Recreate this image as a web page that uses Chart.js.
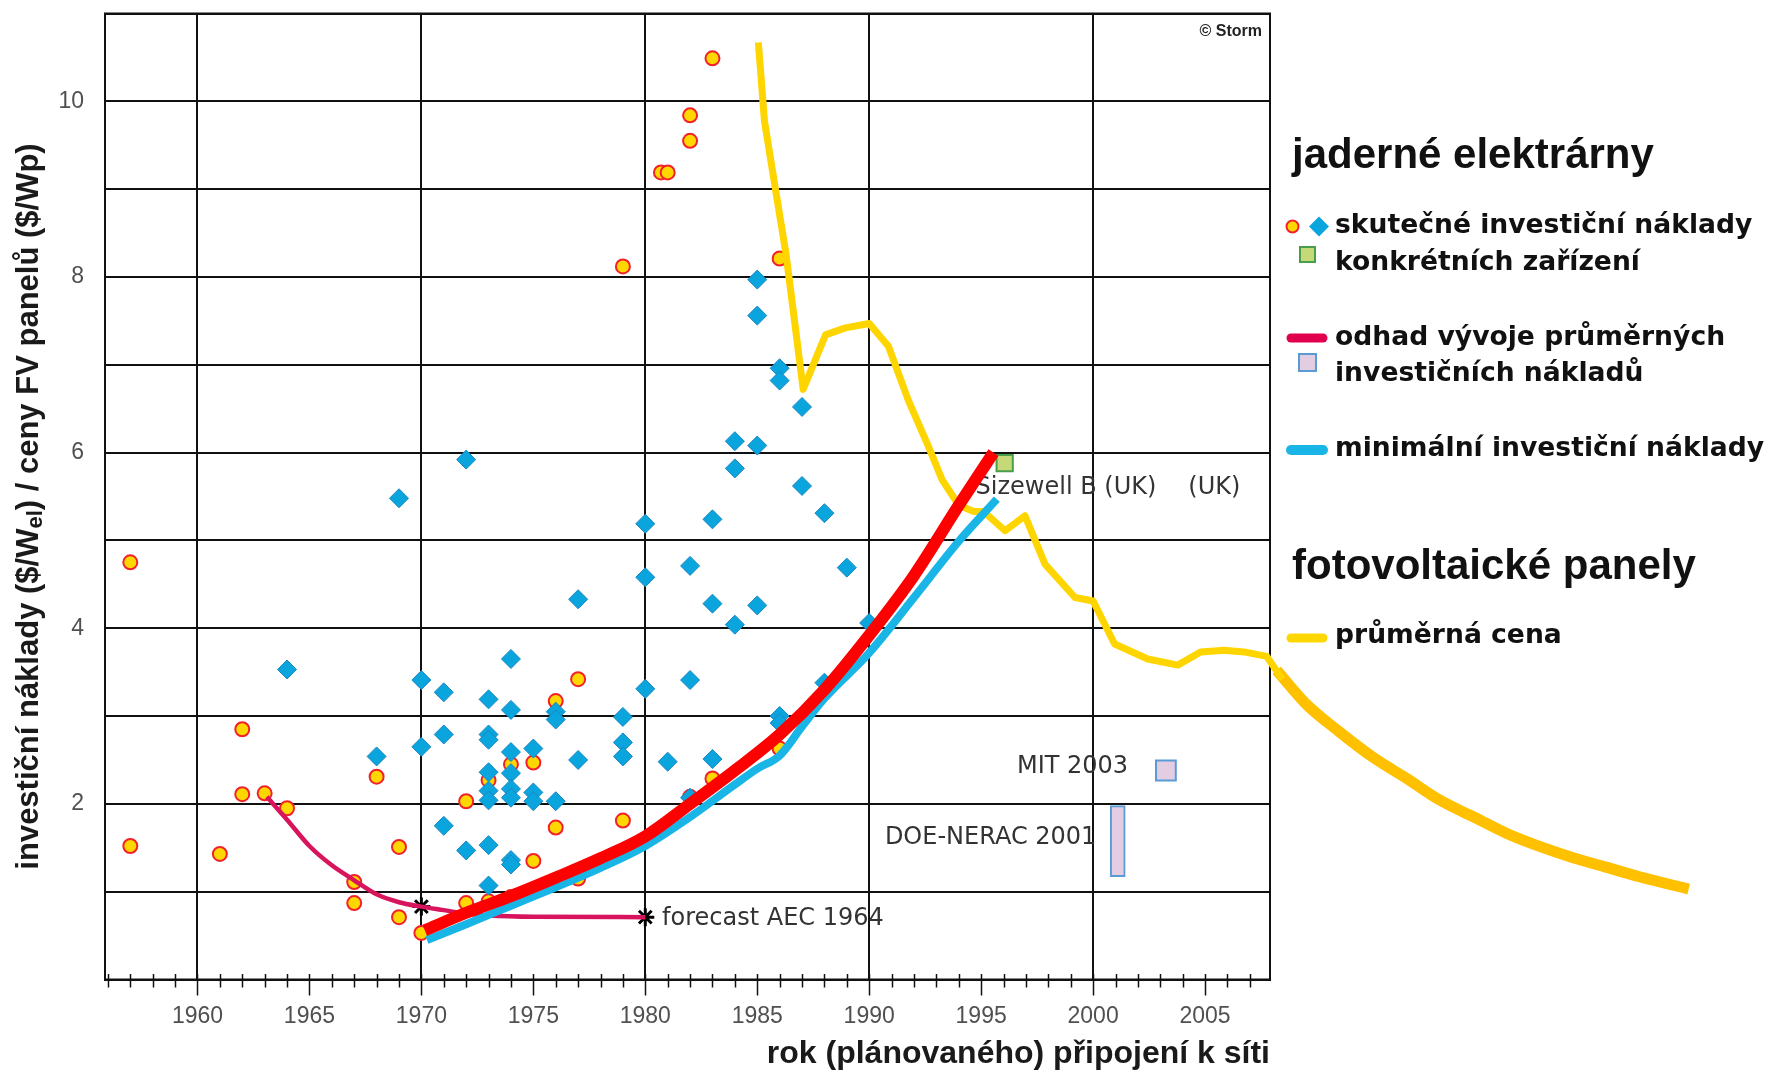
<!DOCTYPE html>
<html lang="cs">
<head>
<meta charset="utf-8">
<title>Investiční náklady jaderných elektráren a ceny FV panelů</title>
<script src="https://cdn.jsdelivr.net/npm/chart.js@4.4.1/dist/chart.umd.min.js"></script>
<style>
  html, body { margin: 0; padding: 0; background: #fff; }
</style>
</head>
<body>
<canvas id="graf" width="1765" height="1073"></canvas>
<script>
// skutečné investiční náklady konkrétních zařízení – kroužky [rok, $/W]
const kolecka = [
    [1957, 4.75], [1957, 1.52], [1961, 1.43], [1962, 2.85], [1962, 2.11], [1963, 2.12],
    [1964, 1.95], [1967, 1.11], [1967, 0.87], [1968, 2.31], [1969, 1.51], [1969, 0.71],
    [1970, 0.53], [1972, 2.03], [1972, 0.87], [1973, 0.89], [1973, 2.27], [1974, 2.45],
    [1974, 0.94], [1975, 2.47], [1975, 1.35], [1976, 3.17], [1976, 1.73], [1977, 3.42],
    [1977, 1.15], [1979, 1.81], [1979, 8.12], [1980.7, 9.19], [1981, 9.19], [1982, 9.84],
    [1982, 9.55], [1982, 2.08], [1983, 10.49], [1983, 2.29], [1986, 8.21], [1986, 2.63]
];

// skutečné investiční náklady – kosočtverce [rok, $/W]
const kosoctverce = [
    [1964, 3.53], [1968, 2.54], [1969, 5.48], [1970, 3.41], [1970, 2.65], [1971, 3.27],
    [1971, 2.79], [1971, 1.75], [1972, 5.92], [1972, 1.47], [1973, 3.19], [1973, 2.79],
    [1973, 2.73], [1973, 2.36], [1973, 2.15], [1973, 2.04], [1973, 1.53], [1973, 1.07],
    [1974, 3.65], [1974, 3.07], [1974, 2.59], [1974, 2.35], [1974, 2.17], [1974, 2.07],
    [1974, 1.36], [1974, 1.31], [1975, 2.63], [1975, 2.13], [1975, 2.03], [1976, 3.05],
    [1976, 2.96], [1976, 2.03], [1977, 4.33], [1977, 2.5], [1979, 2.99], [1979, 2.7],
    [1979, 2.54], [1980, 5.19], [1980, 4.58], [1980, 3.31], [1981, 2.48], [1982, 4.71],
    [1982, 3.41], [1982, 2.07], [1983, 5.24], [1983, 4.28], [1983, 2.51], [1984, 6.13],
    [1984, 5.82], [1984, 4.04], [1985, 7.97], [1985, 7.56], [1985, 6.08], [1985, 4.26],
    [1986, 6.96], [1986, 6.82], [1986, 3.0], [1986, 2.92], [1987, 6.52], [1987, 5.62],
    [1988, 5.31], [1988, 3.38], [1989, 4.69], [1990, 4.06]
];

// forecast AEC 1964 (růžová křivka) a její dva body
const odhadAEC1964 = [
    [1963.1, 2.08], [1964, 1.82], [1965, 1.52], [1966, 1.3], [1967, 1.13], [1968, 0.97],
    [1969, 0.88], [1970, 0.83], [1971, 0.79], [1972, 0.75], [1973, 0.73], [1975, 0.715], [1980, 0.71]
];
const hvezdyAEC = [[1970, 0.83], [1980, 0.71]];

// odhad vývoje průměrných investičních nákladů (červená)
const odhadPrumeru = [
    [1970.15, 0.56], [1972, 0.76], [1974, 0.95], [1976, 1.16], [1978, 1.38], [1980, 1.63],
    [1982, 2.0], [1984, 2.38], [1986, 2.79], [1988, 3.3], [1990, 3.92], [1992, 4.6],
    [1994, 5.4], [1995.55, 6.0]
];

// minimální investiční náklady (modrá)
const minimalni = [
    [1970.25, 0.45], [1972, 0.63], [1974, 0.84], [1976, 1.05], [1978, 1.27], [1980, 1.52],
    [1982, 1.85], [1984, 2.22], [1985, 2.4], [1986, 2.55], [1987, 2.88], [1988, 3.2],
    [1990, 3.72], [1992, 4.35], [1994, 4.99], [1995.7, 5.47]
];

// fotovoltaické panely – průměrná cena ($/Wp)
const fvCena = [
    [1985.05, 10.67], [1985.32, 9.78], [1985.8, 9.02], [1986.28, 8.27], [1986.66, 7.51],
    [1987.05, 6.72], [1988.05, 7.34], [1988.94, 7.42], [1990, 7.47], [1990.86, 7.21],
    [1991.74, 6.6], [1992.63, 6.08], [1993.26, 5.69], [1994, 5.4], [1994.67, 5.33],
    [1995.1, 5.33], [1996.07, 5.11], [1996.96, 5.28], [1997.85, 4.73], [1999.19, 4.35],
    [2000, 4.31], [2000.96, 3.82], [2002.44, 3.65], [2003.78, 3.58], [2004.8, 3.73],
    [2005.85, 3.75], [2006.74, 3.73], [2007.75, 3.68], [2008.45, 3.42]
];
const fvVyhled = [
    [2008.2, 3.52], [2009.5, 3.14], [2011, 2.82], [2012.5, 2.53], [2014, 2.29], [2015.5, 2.04],
    [2017, 1.85], [2018.5, 1.66], [2020, 1.51], [2021.4, 1.39], [2022.9, 1.28], [2024.4, 1.17],
    [2026.6, 1.03]
];

// jednotlivé odhady
const sizewellB = [[1996.05, 5.88]];
const mit2003 = [[2003.25, 2.38]];
const doeNerac2001 = [[2001.1, 1.17, 1.98]];

// osy
const popiskyRoku = [1960, 1965, 1970, 1975, 1980, 1985, 1990, 1995, 2000, 2005];
const popiskyHodnot = [2, 4, 6, 8, 10];
const OSA_X_OD = 1955.87;
const OSA_X_DO = 2007.9;

// texty v grafu
const popisky = [
    { text: 'Sizewell B (UK)', rok: 1994.75, hodnota: 5.6 },
    { text: '(UK)', rok: 2004.25, hodnota: 5.6 },
    { text: 'MIT 2003', rok: 1996.6, hodnota: 2.42 },
    { text: 'DOE-NERAC 2001', rok: 1990.7, hodnota: 1.61 },
    { text: 'forecast AEC 1964', rok: 1980.75, hodnota: 0.69 }
];

const xy = (pole) => pole.map(([x, y]) => ({ x, y }));

const rokyTicku = [];
for (let r = 1956; r <= 2007; r++) rokyTicku.push(r);

const PISMO = '"Liberation Sans", Arial, sans-serif';
const PISMO_LEG = '"DejaVu Sans", Verdana, sans-serif';

function kresliPopisekY(ctx, cx, cy) {
    ctx.save();
    ctx.translate(cx, cy);
    ctx.rotate(-Math.PI / 2);
    const velke = 'bold 31px ' + PISMO;
    const male = 'bold 22px ' + PISMO;
    const casti = [
        ['investiční náklady ($/W', velke, 0],
        ['el', male, 7],
        [') / ceny FV panelů ($/Wp)', velke, 0]
    ];
    let sirka = 0;
    casti.forEach(c => { ctx.font = c[1]; sirka += ctx.measureText(c[0]).width; });
    let x = -sirka / 2;
    ctx.textBaseline = 'middle';
    ctx.textAlign = 'left';
    ctx.fillStyle = '#1a1a1a';
    casti.forEach(c => {
        ctx.font = c[1];
        ctx.fillText(c[0], x, c[2]);
        x += ctx.measureText(c[0]).width;
    });
    ctx.restore();
}

function kresliLegendu(ctx) {
    ctx.save();
    ctx.textBaseline = 'middle';
    ctx.textAlign = 'left';
    ctx.fillStyle = '#111';
    ctx.font = 'bold 42px ' + PISMO;
    ctx.fillText('jaderné elektrárny', 1292, 156);
    ctx.fillText('fotovoltaické panely', 1292, 567);

    ctx.font = 'bold 26.6px ' + PISMO_LEG;
    ctx.fillText('skutečné investiční náklady', 1335, 226);
    ctx.fillText('konkrétních zařízení', 1335, 263);
    ctx.fillText('odhad vývoje průměrných', 1335, 338);
    ctx.fillText('investičních nákladů', 1335, 374);
    ctx.fillText('minimální investiční náklady', 1335, 449);
    ctx.fillText('průměrná cena', 1335, 636);

    // kroužek
    ctx.beginPath();
    ctx.arc(1292.5, 226.5, 6, 0, Math.PI * 2);
    ctx.fillStyle = '#ffd700';
    ctx.fill();
    ctx.lineWidth = 2;
    ctx.strokeStyle = '#f2202a';
    ctx.stroke();
    // kosočtverec
    ctx.beginPath();
    ctx.moveTo(1309, 226.5); ctx.lineTo(1319, 216.5); ctx.lineTo(1329, 226.5); ctx.lineTo(1319, 236.5);
    ctx.closePath();
    ctx.fillStyle = '#0aa5dd';
    ctx.fill();
    // čtverečky
    ctx.lineWidth = 2;
    ctx.fillStyle = '#c6d979'; ctx.strokeStyle = '#4a9e4a';
    ctx.fillRect(1300, 247, 15, 15); ctx.strokeRect(1300, 247, 15, 15);
    ctx.fillStyle = '#e2cde2'; ctx.strokeStyle = '#5b9bd5';
    ctx.fillRect(1299, 354, 17, 17); ctx.strokeRect(1299, 354, 17, 17);
    // čáry
    ctx.lineCap = 'round';
    [['#e0004e', 338, 9], ['#19b5e6', 450, 10], ['#ffd700', 638, 9]].forEach(([barva, yy, w]) => {
        ctx.beginPath();
        ctx.moveTo(1291, yy); ctx.lineTo(1323, yy);
        ctx.strokeStyle = barva; ctx.lineWidth = w;
        ctx.stroke();
    });
    ctx.restore();
}

const dekorace = {
    id: 'dekorace',
    beforeDatasetsDraw(chart) {
        const { ctx, chartArea: a, scales: { x, y } } = chart;
        ctx.save();
        ctx.strokeStyle = '#111';
        ctx.lineWidth = 2;
        ctx.strokeRect(a.left, a.top, a.right - a.left, a.bottom - a.top);
        ctx.font = '24px ' + PISMO_LEG;
        ctx.fillStyle = '#333';
        ctx.textBaseline = 'middle';
        ctx.textAlign = 'left';
        popisky.forEach(p => ctx.fillText(p.text, x.getPixelForValue(p.rok), y.getPixelForValue(p.hodnota)));
        ctx.restore();
    },
    afterDraw(chart) {
        const { ctx, chartArea: a, scales: { x } } = chart;
        ctx.save();
        // značky let na ose x
        ctx.strokeStyle = '#111';
        ctx.lineWidth = 1.5;
        x.ticks.forEach(t => {
            const px = Math.round(x.getPixelForValue(t.value)) + 0.5;
            const dolu = t.value % 5 === 0 ? 16 : 8;
            ctx.beginPath();
            ctx.moveTo(px, a.bottom - 5.5);
            ctx.lineTo(px, a.bottom + dolu);
            ctx.stroke();
        });
        // © Storm
        ctx.font = 'bold 16px ' + PISMO;
        ctx.fillStyle = '#222';
        ctx.textAlign = 'right';
        ctx.textBaseline = 'middle';
        ctx.fillText('© Storm', a.right - 8, a.top + 18);
        ctx.restore();

        kresliPopisekY(ctx, 29, (a.top + a.bottom) / 2 + 10);
        kresliLegendu(ctx);
    }
};

new Chart(document.getElementById('graf'), {
    type: 'scatter',
    data: {
        datasets: [
            {
                type: 'line',
                label: 'odhad vývoje průměrných investičních nákladů',
                data: xy(odhadPrumeru),
                borderColor: '#ff0000',
                borderWidth: 12,
                pointRadius: 0,
                cubicInterpolationMode: 'monotone'
            },
            {
                type: 'line',
                label: 'minimální investiční náklady',
                data: xy(minimalni),
                borderColor: '#19b5e6',
                borderWidth: 8,
                pointRadius: 0,
                cubicInterpolationMode: 'monotone'
            },
            {
                type: 'line',
                label: 'průměrná cena',
                data: xy(fvCena),
                borderColor: '#ffd500',
                borderWidth: 7,
                borderJoinStyle: 'round',
                pointRadius: 0,
                tension: 0,
                clip: false
            },
            {
                type: 'line',
                label: 'průměrná cena (pokračování)',
                data: xy(fvVyhled),
                borderColor: '#ffc000',
                borderWidth: 11,
                pointRadius: 0,
                cubicInterpolationMode: 'monotone',
                capBezierPoints: false,
                clip: false
            },
            {
                type: 'line',
                label: 'forecast AEC 1964',
                data: xy(odhadAEC1964),
                borderColor: '#d8145c',
                borderWidth: 4.5,
                pointRadius: 0,
                cubicInterpolationMode: 'monotone'
            },
            {
                label: 'forecast AEC 1964 body',
                data: xy(hvezdyAEC),
                pointStyle: 'star',
                pointRadius: 9,
                borderColor: '#000',
                borderWidth: 3
            },
            {
                label: 'Sizewell B (UK)',
                data: xy(sizewellB),
                pointStyle: 'rect',
                pointRadius: 11.5,
                backgroundColor: '#c6d979',
                borderColor: '#4a9e4a',
                borderWidth: 2
            },
            {
                label: 'skutečné investiční náklady',
                data: xy(kosoctverce),
                pointStyle: 'rectRot',
                pointRadius: 9.5,
                backgroundColor: '#0aa5dd',
                borderColor: '#1a86c4',
                borderWidth: 1
            },
            {
                label: 'skutečné investiční náklady (kroužky)',
                data: xy(kolecka),
                pointStyle: 'circle',
                pointRadius: 7,
                backgroundColor: '#ffd700',
                borderColor: '#f2202a',
                borderWidth: 2
            },
            {
                label: 'MIT 2003',
                data: xy(mit2003),
                pointStyle: 'rect',
                pointRadius: 14,
                backgroundColor: '#e2cde2',
                borderColor: '#5b9bd5',
                borderWidth: 2
            },
            {
                type: 'bar',
                label: 'DOE-NERAC 2001',
                data: doeNerac2001.map(([x, od, doo]) => ({ x, y: [od, doo] })),
                backgroundColor: '#e2cde2',
                borderColor: '#5b9bd5',
                borderWidth: 2,
                borderSkipped: false,
                barThickness: 15,
                grouped: false
            }
        ]
    },
    options: {
        responsive: false,
        animation: false,
        events: [],
        layout: {
            autoPadding: false,
            padding: { top: 13.5, right: 495, bottom: 0, left: 0 }
        },
        plugins: {
            legend: { display: false },
            tooltip: { enabled: false }
        },
        scales: {
            x: {
                type: 'linear',
                position: 'bottom',
                offset: false,
                bounds: 'data',
                // rozsah osy nastavený až po výpočtu, aby se žlutá čára mohla kreslit i za rámem
                afterDataLimits: (s) => { s.min = OSA_X_OD; s.max = OSA_X_DO; },
                afterBuildTicks: (s) => { s.ticks = rokyTicku.map(v => ({ value: v })); },
                afterFit: (s) => { s.height = 93.5; s.paddingLeft = 0; s.paddingRight = 0; },
                grid: {
                    offset: false,
                    drawTicks: false,
                    lineWidth: 2,
                    color: (c) => (c.tick && c.tick.value % 10 === 0) ? '#111' : 'rgba(0,0,0,0)'
                },
                border: { display: true, color: '#111', width: 2 },
                ticks: {
                    autoSkip: false,
                    maxRotation: 0,
                    padding: 23,
                    color: '#505050',
                    font: { family: PISMO, size: 23 },
                    callback: (v) => popiskyRoku.includes(v) ? String(v) : ''
                },
                title: {
                    display: true,
                    text: 'rok (plánovaného) připojení k síti',
                    align: 'end',
                    color: '#1a1a1a',
                    font: { family: PISMO, size: 32, weight: 'bold' },
                    padding: { top: 0, bottom: 0 }
                }
            },
            y: {
                type: 'linear',
                min: 0,
                max: 11,
                afterFit: (s) => { s.width = 105; s.paddingTop = 0; s.paddingBottom = 0; },
                grid: { drawTicks: false, lineWidth: 2, color: '#111' },
                border: { display: true, color: '#111', width: 2 },
                ticks: {
                    stepSize: 1,
                    padding: 21,
                    color: '#505050',
                    font: { family: PISMO, size: 23 },
                    callback: (v) => popiskyHodnot.includes(v) ? String(v) : ''
                }
            }
        }
    },
    plugins: [dekorace]
});
</script>
</body>
</html>
